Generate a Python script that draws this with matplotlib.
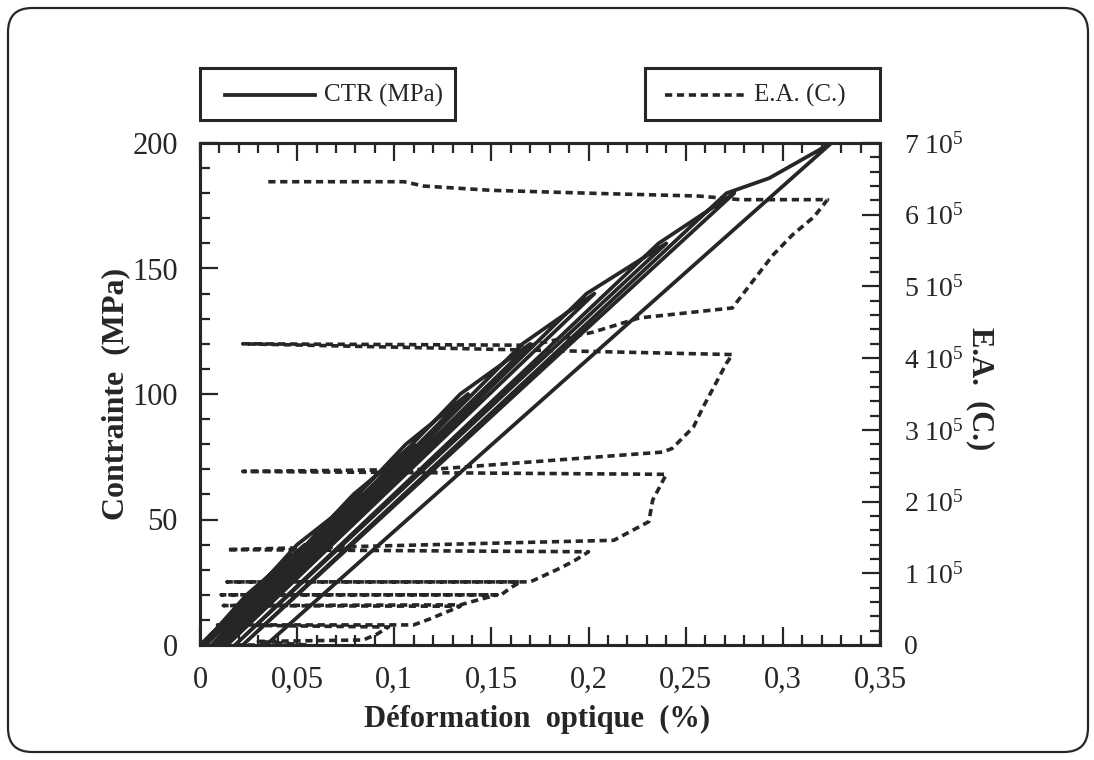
import matplotlib
matplotlib.use('Agg')
import matplotlib.pyplot as plt
from matplotlib.patches import FancyBboxPatch, Rectangle
from matplotlib.lines import Line2D
from matplotlib.ticker import MultipleLocator, FixedLocator

plt.rcParams['font.family'] = ['Liberation Serif', 'DejaVu Serif']
plt.rcParams['mathtext.fontset'] = 'custom'
plt.rcParams['mathtext.rm'] = 'Liberation Serif'
plt.rcParams['mathtext.default'] = 'regular'

# CTR: stress (MPa) vs optical strain (%), loading/unloading cycles in time order
ctr_strain = [0.000, 0.027, 0.001,
              0.024, 0.054, 0.003,
              0.050, 0.083, 0.006,
              0.079, 0.110, 0.008,
              0.106, 0.138, 0.010,
              0.134, 0.170, 0.012,
              0.166, 0.203, 0.014,
              0.199, 0.240, 0.018,
              0.236, 0.275, 0.022,
              0.271, 0.293, 0.325, 0.034]
ctr_stress = [0, 20, 0,
              20, 40, 0,
              40, 60, 0,
              60, 80, 0,
              80, 100, 0,
              100, 120, 0,
              120, 140, 0,
              140, 160, 0,
              160, 180, 0,
              180, 186, 200, 0]

# E.A.: cumulated counts (x 1e5) vs optical strain (%)
ea_strain = [0.000, 0.055, 0.030, 0.084, 0.091, 0.097,
             0.009, 0.110, 0.118, 0.126, 0.134,
             0.012, 0.134, 0.142, 0.153,
             0.011, 0.155, 0.160, 0.165,
             0.014, 0.170, 0.178, 0.186, 0.193, 0.200,
             0.014, 0.213, 0.231, 0.233, 0.240,
             0.022, 0.120, 0.238, 0.243, 0.254, 0.259, 0.271, 0.274,
             0.022, 0.170, 0.202, 0.226, 0.274, 0.285, 0.295, 0.305, 0.316, 0.323,
             0.278, 0.257, 0.200, 0.150, 0.115, 0.105, 0.033]
ea_count = [0.00, 0.00, 0.05, 0.07, 0.15, 0.25,
            0.28, 0.28, 0.36, 0.45, 0.54,
            0.55, 0.56, 0.62, 0.70,
            0.70, 0.70, 0.80, 0.88,
            0.88, 0.88, 0.98, 1.08, 1.18, 1.30,
            1.33, 1.46, 1.72, 2.02, 2.38,
            2.42, 2.45, 2.69, 2.74, 3.04, 3.32, 3.93, 4.05,
            4.20, 4.18, 4.36, 4.56, 4.70, 5.09, 5.44, 5.72, 5.97, 6.21,
            6.21, 6.26, 6.30, 6.34, 6.40, 6.46, 6.46]

x_ticks = [0, 0.05, 0.1, 0.15, 0.2, 0.25, 0.3, 0.35]
x_ticklabels = ['0', '0,05', '0,1', '0,15', '0,2', '0,25', '0,3', '0,35']
y_ticks = [0, 50, 100, 150, 200]
ea_ticks = [0, 1, 2, 3, 4, 5, 6, 7]
ea_ticklabels = ['0'] + ['%d 10$^5$' % k for k in ea_ticks[1:]]

ink = '#262626'
dash = (0, (2.0, 1.3))
W, H = 1094, 760

fig = plt.figure(figsize=(W / 100, H / 100), dpi=100)
ax = fig.add_axes([200 / W, 1 - 645 / H, 680 / W, 502 / H])
ax2 = ax.twinx()

ctr_line, = ax.plot(ctr_strain, ctr_stress, color=ink, lw=2.7, label='CTR (MPa)')
ea_line, = ax2.plot(ea_strain, ea_count, color=ink, lw=2.6, ls=dash,
                    label='E.A. (C.)')

ax.set_xlim(0, 0.35)
ax.set_ylim(0, 200)
ax2.set_ylim(0, 7)

ax.xaxis.set_major_locator(FixedLocator(x_ticks))
ax.set_xticklabels(x_ticklabels)
ax.xaxis.set_minor_locator(MultipleLocator(0.01))
ax.yaxis.set_major_locator(FixedLocator(y_ticks))
ax.yaxis.set_minor_locator(MultipleLocator(10))
ax2.yaxis.set_major_locator(FixedLocator(ea_ticks))
ax2.set_yticklabels(ea_ticklabels)
ax2.yaxis.set_minor_locator(MultipleLocator(0.2))

ax.tick_params(which='both', direction='in', top=True, right=False,
               width=1.6, color=ink, labelsize=22, labelcolor=ink)
ax.tick_params(which='major', length=13)
ax.tick_params(which='minor', length=7)
ax.tick_params(axis='x', which='major', pad=15)
ax.tick_params(axis='y', which='major', pad=16)
ax2.tick_params(which='both', direction='in', width=1.6, color=ink,
                labelsize=20, labelcolor=ink)
ax2.tick_params(which='major', length=13, pad=17)
ax2.tick_params(which='minor', length=7)
for a in (ax, ax2):
    for s in a.spines.values():
        s.set_linewidth(2.2)
        s.set_color(ink)

ax.set_xlabel('Déformation  optique  (%)', fontsize=22, fontweight='bold', color=ink)
ax.xaxis.set_label_coords(0.496, -0.12)
ax.set_ylabel('Contrainte  (MPa)', fontsize=23, fontweight='bold', color=ink)
ax.yaxis.set_label_coords(-0.102, 0.5)
ax2.set_ylabel('E.A.  (C.)', fontsize=22, fontweight='bold', color=ink,
               rotation=-90, va='center')
ax2.yaxis.set_label_coords(1.148, 0.51)


# legend boxes above the plot
def legend_box(x0, x1, sample0, sample1, text_x, line):
    fig.patches.append(Rectangle((x0 / W, 1 - 120 / H), (x1 - x0) / W, 52 / H,
                                 transform=fig.transFigure, fill=False,
                                 edgecolor=ink, lw=2.2))
    fig.lines.append(Line2D([sample0 / W, sample1 / W], [1 - 95 / H] * 2,
                            transform=fig.transFigure, color=ink,
                            lw=line.get_linewidth(), ls=line.get_linestyle()
                            if line is ctr_line else dash))
    fig.text(text_x / W, 1 - 95 / H, line.get_label(), fontsize=18, color=ink,
             va='center', ha='left')


legend_box(200, 455, 225, 315, 324, ctr_line)
legend_box(645, 880, 665, 745, 754, ea_line)

fig.patches.append(FancyBboxPatch((8 / W, 8 / H), 1080 / W, 744 / H,
                                  boxstyle='round,pad=0,rounding_size=0.022',
                                  mutation_aspect=1.44, transform=fig.transFigure,
                                  fill=False, edgecolor=ink, lw=1.6))

fig.savefig('out.png', dpi=100)
